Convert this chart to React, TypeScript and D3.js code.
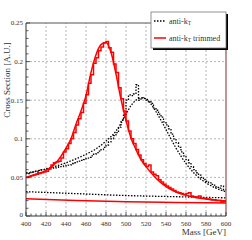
import React from "react";
import * as d3 from "d3";

const BIN = 2.5;
const binEdges = d3.range(400, 600, BIN);
const blackHist = [0.056,0.055,0.057,0.058,0.057,0.059,0.060,0.060,0.061,0.061,0.063,0.062,0.063,0.064,0.064,0.065,0.066,0.066,0.068,0.069,0.070,0.071,0.072,0.073,0.075,0.076,0.078,0.080,0.082,0.084,0.086,0.089,0.092,0.096,0.100,0.104,0.108,0.115,0.124,0.132,0.150,0.157,0.156,0.158,0.170,0.150,0.153,0.152,0.150,0.148,0.146,0.140,0.137,0.132,0.128,0.122,0.118,0.113,0.106,0.100,0.095,0.089,0.083,0.078,0.073,0.069,0.064,0.060,0.056,0.053,0.050,0.047,0.045,0.043,0.041,0.040,0.037,0.036,0.039,0.034];
const redHist = [0.050,0.051,0.052,0.053,0.054,0.055,0.056,0.057,0.058,0.061,0.066,0.069,0.070,0.071,0.075,0.083,0.087,0.094,0.100,0.108,0.118,0.126,0.134,0.146,0.157,0.172,0.183,0.198,0.205,0.214,0.219,0.224,0.226,0.218,0.212,0.197,0.186,0.166,0.152,0.136,0.123,0.110,0.100,0.094,0.086,0.079,0.073,0.068,0.064,0.066,0.057,0.054,0.052,0.047,0.044,0.041,0.039,0.037,0.035,0.033,0.031,0.030,0.029,0.028,0.029,0.030,0.026,0.025,0.024,0.026,0.023,0.023,0.022,0.022,0.021,0.021,0.020,0.020,0.018,0.019];

const redFitX = [400,410,420,430,440,445,450,455,460,465,470,475,480,485,490,495,500,505,510,515,520,530,540,550,560,570,580,590,600];
const redFitY = [0.050,0.054,0.059,0.069,0.088,0.100,0.119,0.136,0.156,0.186,0.209,0.222,0.225,0.212,0.184,0.151,0.124,0.101,0.086,0.073,0.064,0.049,0.038,0.031,0.027,0.024,0.022,0.0205,0.0195];

const blackFitX = [400,420,440,460,470,480,490,495,500,505,510,515,520,525,530,535,540,550,560,570,580,590,600];
const blackFitY = [0.055,0.061,0.069,0.080,0.087,0.097,0.110,0.120,0.132,0.143,0.150,0.153,0.152,0.145,0.135,0.124,0.112,0.088,0.068,0.053,0.043,0.036,0.0315];

const bgX = [400,450,500,550,600];
const blackBgY = [0.0315,0.029,0.0265,0.025,0.0235];
const redBgY = [0.0225,0.020,0.0185,0.0175,0.0168];

const xTicks = [400,420,440,460,480,500,520,540,560,580,600];
const yTicks = [0,0.05,0.1,0.15,0.2,0.25];
const yTickLabels = ["0","0.05","0.1","0.15","0.2","0.25"];

const FONT = "'Liberation Serif', 'DejaVu Serif', serif";

export default function App() {
  const x = d3.scaleLinear().domain([400, 600]).range([26, 226]);
  const y = d3.scaleLinear().domain([0, 0.25]).range([216, 23]);

  const histPath = (vals: number[]) => {
    let p = "";
    vals.forEach((v, i) => {
      const x0 = x(binEdges[i]);
      const x1 = x(binEdges[i] + BIN);
      p += (i === 0 ? `M${x0},${y(v)}` : `L${x0},${y(v)}`) + `L${x1},${y(v)}`;
    });
    return p;
  };
  const line = (xs: number[], ys: number[]) =>
    d3.line<number>().x((_, i) => x(xs[i])).y((d) => y(d)).curve(d3.curveMonotoneX)(ys) || "";

  const minorX = d3.range(400, 601, 5);
  const minorY = d3.range(0, 0.2501, 0.01);

  return (
    <svg width={252} height={240} style={{ position: "absolute", left: 0, top: 0, background: "#fff" }}>
      <rect width={252} height={240} fill="#fff" />
      {xTicks.slice(1, -1).map((t) => (
        <line key={"gx" + t} x1={x(t)} x2={x(t)} y1={y(0)} y2={y(0.25)} stroke="#999" strokeWidth={0.7} strokeDasharray="2,2" />
      ))}
      {yTicks.slice(1, -1).map((t) => (
        <line key={"gy" + t} x1={x(400)} x2={x(600)} y1={y(t)} y2={y(t)} stroke="#999" strokeWidth={0.7} strokeDasharray="2,2" />
      ))}
      <path d={line(bgX, blackBgY)} fill="none" stroke="#000" strokeWidth={1.3} strokeDasharray="1.5,1.5" />
      <path d={line(bgX, redBgY)} fill="none" stroke="#f00" strokeWidth={1.5} />
      <path d={line(blackFitX, blackFitY)} fill="none" stroke="#000" strokeWidth={1.3} strokeDasharray="1.5,1.5" />
      <path d={histPath(blackHist)} fill="none" stroke="#000" strokeWidth={1.3} strokeDasharray="1.5,1.5" />
      <path d={line(redFitX, redFitY)} fill="none" stroke="#f00" strokeWidth={1.5} />
      <path d={histPath(redHist)} fill="none" stroke="#f00" strokeWidth={1.5} />
      <line x1={x(400)} x2={x(600)} y1={y(0.25)} y2={y(0.25)} stroke="#555" strokeWidth={1} />
      <line x1={x(600)} x2={x(600)} y1={y(0.25)} y2={y(0)} stroke="#7b2d2d" strokeWidth={1} />
      <line x1={x(400)} x2={x(400)} y1={y(0.25)} y2={y(0)} stroke="#333" strokeWidth={1} />
      <line x1={x(400)} x2={x(600)} y1={y(0)} y2={y(0)} stroke="#333" strokeWidth={1} />
      {minorX.map((t) => (
        <line key={"tx" + t} x1={x(t)} x2={x(t)} y1={y(0)} y2={y(0) - (t % 20 === 0 ? 4 : 2.5)} stroke="#333" strokeWidth={0.8} />
      ))}
      {minorY.map((t, i) => (
        <line key={"ty" + i} x1={x(400)} x2={x(400) + (i % 5 === 0 ? 4 : 2.5)} y1={y(t)} y2={y(t)} stroke="#333" strokeWidth={0.8} />
      ))}
      {xTicks.map((t) => (
        <text key={"lx" + t} x={x(t)} y={225.5} fontSize={7} textAnchor="middle" fontFamily={FONT} fill="#333">{t}</text>
      ))}
      {yTicks.map((t, i) => (
        <text key={"ly" + t} x={23} y={y(t) + (i === 0 ? 0.5 : 2.4)} fontSize={7} textAnchor="end" fontFamily={FONT} fill="#333">{yTickLabels[i]}</text>
      ))}
      <text x={226} y={235} fontSize={9} textAnchor="end" fontFamily={FONT} fill="#333">Mass [GeV]</text>
      <text transform="translate(10,80) rotate(-90)" fontSize={9} textAnchor="middle" fontFamily={FONT} fill="#333">Cross Section [A.U.]</text>
      <rect x={153} y={14} width={75} height={36} fill="#000" />
      <rect x={151} y={12} width={75} height={36} fill="#fff" stroke="#777" strokeWidth={0.8} />
      <line x1={154} x2={166} y1={21} y2={21} stroke="#000" strokeWidth={1.3} strokeDasharray="1.5,1.5" />
      <text x={169} y={23.5} fontSize={8} fontFamily={FONT} fill="#333">anti-k<tspan fontSize={5.5} dy={1.5}>T</tspan></text>
      <line x1={154} x2={166} y1={38} y2={38} stroke="#f00" strokeWidth={1.5} />
      <text x={169} y={40.5} fontSize={8} fontFamily={FONT} fill="#333">anti-k<tspan fontSize={5.5} dy={1.5}>T</tspan><tspan dy={-1.5}> trimmed</tspan></text>
    </svg>
  );
}
